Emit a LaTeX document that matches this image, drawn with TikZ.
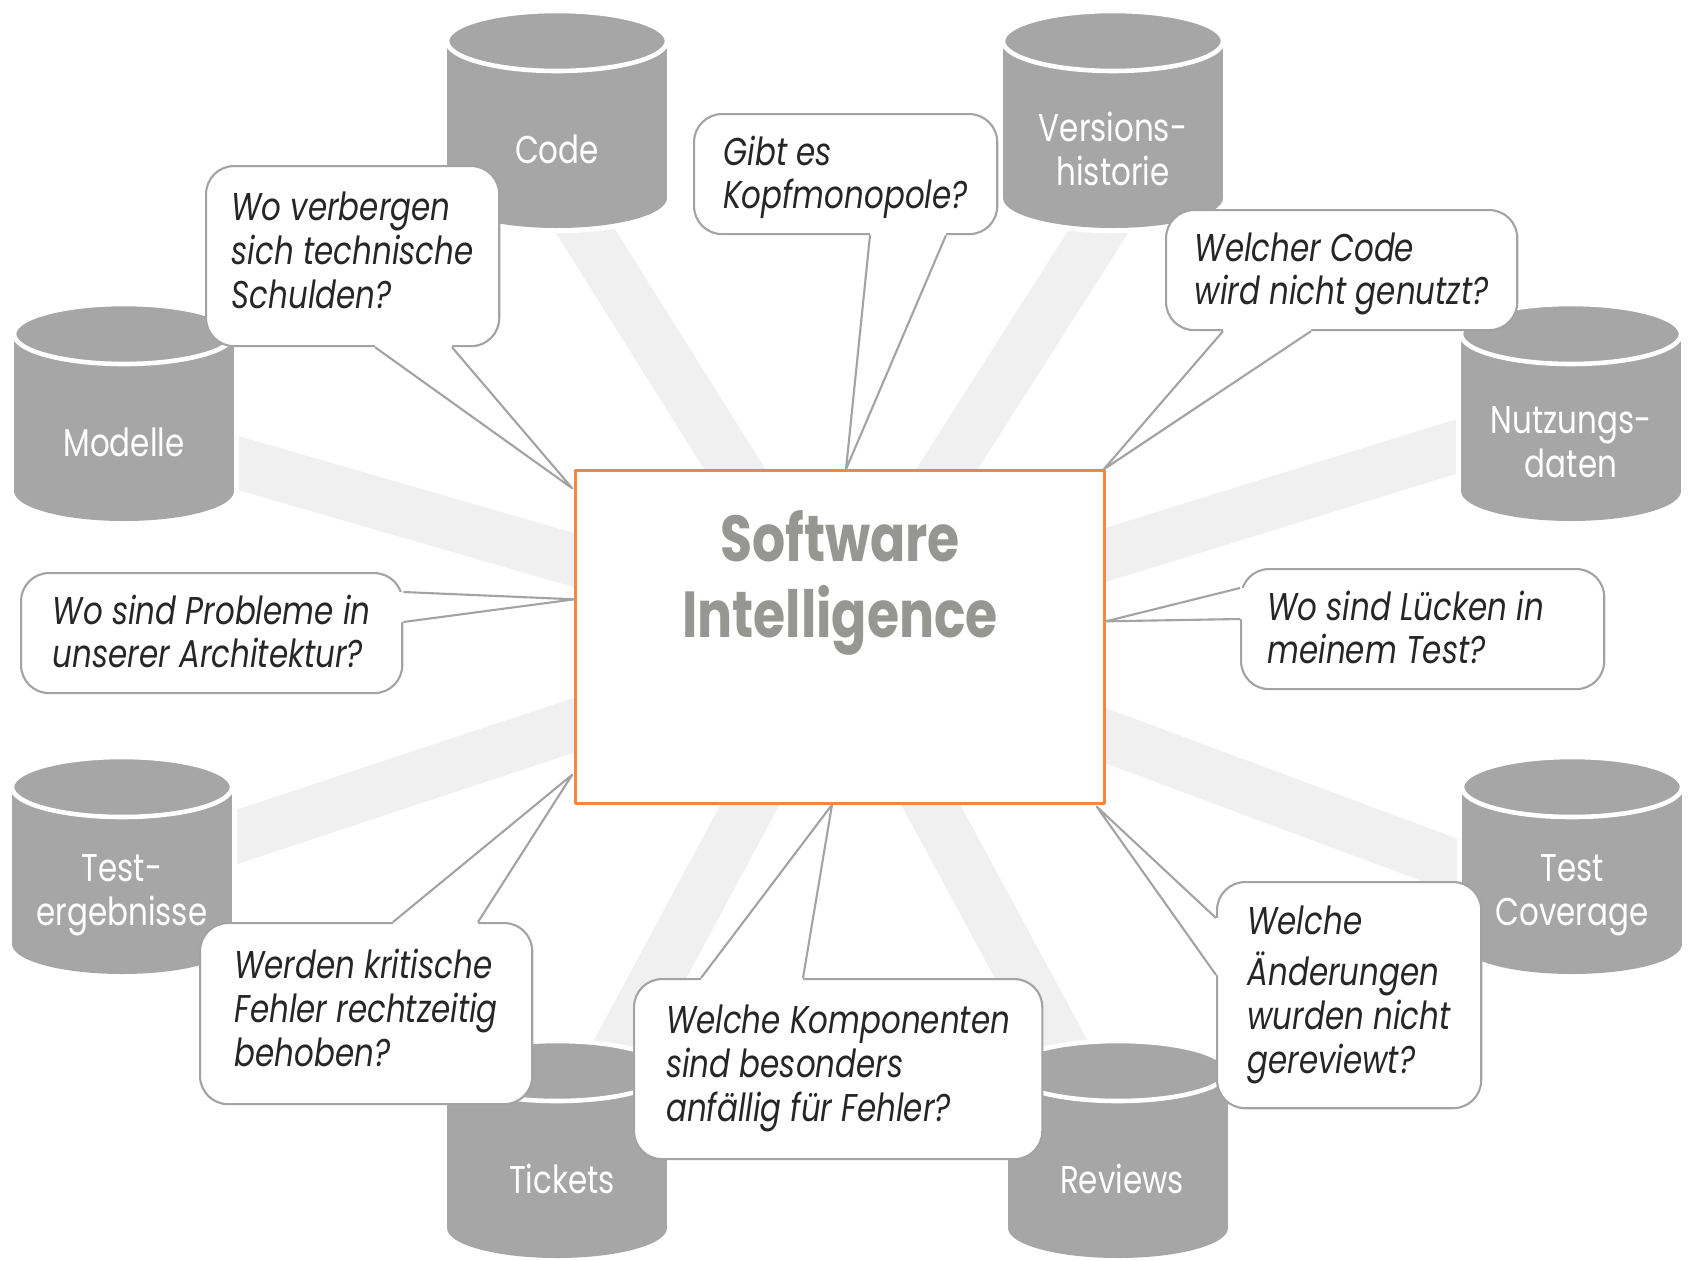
\documentclass[tikz,border=0pt]{standalone}
\usepackage{fontspec}
\setmainfont{Poppins}[FakeStretch=0.8]
\usetikzlibrary{calc}
\definecolor{dbgray}{HTML}{A6A6A6}
\definecolor{raygray}{HTML}{F0F0F0}
\definecolor{bubblegray}{HTML}{A3A3A3}
\definecolor{siorange}{HTML}{F7843F}
\definecolor{titlegray}{HTML}{969693}
\definecolor{qtext}{HTML}{262626}
\pgfdeclarelayer{background}
\pgfsetlayers{background,main}
\tikzset{
  every picture/.style={line join=round},
  ray/.style={draw=raygray, line width=0.52cm},
  dblabel/.style={text=white, align=center, inner sep=0pt, font=\fontsize{11}{12.5}\selectfont},
  sibox/.style={draw=siorange, fill=white, line width=0.9pt, minimum width=5.28cm, minimum height=3.32cm, inner sep=0pt},
  sititle/.style={text=titlegray, align=center, inner sep=0pt, font=\bfseries\fontsize{18.5}{21.6}\selectfont},
  bubble/.style={draw=bubblegray, fill=white, line width=0.6pt, rounded corners=0.28cm, anchor=north west,
    align=left, inner sep=0pt, text=qtext, font=\itshape\fontsize{11}{12.5}\selectfont},
  pointer/.style={draw=bubblegray, line width=0.6pt},
}
% cylinder: name, center x, top y, label
\newcommand\dbcyl[4]{%
  \draw[white, line width=3pt] (#2-110,#3+30) rectangle (#2+110,#3+187);
  \draw[white, line width=3pt] (#2,#3+187) ellipse [x radius=110, y radius=30];
  \fill[dbgray] (#2-110,#3+30) rectangle (#2+110,#3+187);
  \fill[dbgray] (#2,#3+187) ellipse [x radius=110, y radius=30];
  \filldraw[fill=dbgray, draw=white, line width=1.3pt] (#2,#3+30) ellipse [x radius=110, y radius=30];
  \node[dblabel] (#1) at (#2,#3+138) {#4};}
% open tip of a speech bubble: base a, base b, tip, shift into the bubble
\newcommand\bubbletip[4]{%
  \fill[white] ($(#1)+(#4)$) -- (#1) -- (#3) -- (#2) -- ($(#2)+(#4)$) -- cycle;
  \draw[pointer] (#1) -- (#3) -- (#2);}
\newcommand\topstrut{\rule{0pt}{0.39cm}}

\begin{document}
\begin{tikzpicture}[x=0.01cm,y=-0.01cm]
\useasboundingbox (0,0) rectangle (1688,1260);

\dbcyl{code}{557}{11}{Code}
\dbcyl{vers}{1113}{11}{Versions-\\historie}
\dbcyl{model}{124}{304}{Modelle}
\dbcyl{nutz}{1571}{304}{Nutzungs-\\daten}
\dbcyl{testerg}{122}{757}{Test-\\ergebnisse}
\dbcyl{testcov}{1572}{757}{Test\\Coverage}
\dbcyl{tickets}{557}{1041}{\hspace{0.1cm}Tickets}
\dbcyl{reviews}{1118}{1041}{\hspace{0.08cm}Reviews}

\node[sibox] (si) at (840,637) {};
\node[sititle] (sititle) at (840,583) {Software\\Intelligence};

\node[bubble, minimum width=2.93cm, minimum height=1.80cm] (debt) at (205,165) {\strut Wo verbergen\\sich technische\\Schulden?\strut};
\node[bubble, minimum width=3.03cm, minimum height=1.20cm] (kopf) at (693,113) {\topstrut Gibt es\\Kopfmonopole?\strut};
\node[bubble, minimum width=3.51cm, minimum height=1.20cm] (unused) at (1165,209) {\topstrut Welcher Code\\wird nicht genutzt?\strut};
\node[bubble, minimum width=3.81cm, minimum height=1.20cm] (arch) at (20,572) {\topstrut Wo sind Probleme in\\unserer Architektur?\strut};
\node[bubble, minimum width=3.63cm, minimum height=1.20cm] (gaps) at (1240,568) {\topstrut Wo sind Lücken in\rule{0.34cm}{0pt}\\meinem Test?\strut};
\node[bubble, minimum width=3.32cm, minimum height=1.81cm] (bugs) at (199,922) {\strut Werden kritische\\Fehler rechtzeitig\\behoben?\strut};
\node[bubble, minimum width=4.08cm, minimum height=1.80cm] (comp) at (633,978) {\strut Welche Komponenten\\sind besonders\\anfällig für Fehler?\strut};
\node[bubble, minimum width=2.64cm, minimum height=2.26cm] (review) at (1216,881) {\strut Welche\\Änderungen\\wurden nicht\\gereviewt?\strut};

\coordinate (debt-a) at ($(debt.south west)+(170,0)$);
\coordinate (debt-b) at ($(debt.south west)+(247,0)$);
\coordinate (debt-t) at ($(si.north west)+(-2,19)$);
\bubbletip{debt-a}{debt-b}{debt-t}{0,-5}
\coordinate (kopf-a) at ($(kopf.south west)+(177,0)$);
\coordinate (kopf-b) at ($(kopf.south west)+(253,0)$);
\coordinate (kopf-t) at ($(si.north)+(6,0)$);
\bubbletip{kopf-a}{kopf-b}{kopf-t}{0,-5}
\coordinate (unused-a) at ($(unused.south west)+(58,0)$);
\coordinate (unused-b) at ($(unused.south west)+(146,0)$);
\coordinate (unused-t) at ($(si.north east)+(-2,0)$);
\bubbletip{unused-a}{unused-b}{unused-t}{0,-5}
\coordinate (arch-a) at ($(arch.north east)+(0,20)$);
\coordinate (arch-b) at ($(arch.north east)+(0,50)$);
\coordinate (arch-t) at ($(si.north west)+(0,130)$);
\bubbletip{arch-a}{arch-b}{arch-t}{-5,0}
\coordinate (gaps-a) at ($(gaps.north west)+(0,20)$);
\coordinate (gaps-b) at ($(gaps.north west)+(0,51)$);
\coordinate (gaps-t) at ($(si.north east)+(0,152)$);
\bubbletip{gaps-a}{gaps-b}{gaps-t}{5,0}
\coordinate (bugs-a) at ($(bugs.north west)+(194,0)$);
\coordinate (bugs-b) at ($(bugs.north west)+(279,0)$);
\coordinate (bugs-t) at ($(si.south west)+(-2,-30)$);
\bubbletip{bugs-a}{bugs-b}{bugs-t}{0,5}
\coordinate (comp-a) at ($(comp.north west)+(68,0)$);
\coordinate (comp-b) at ($(comp.north west)+(170,0)$);
\coordinate (comp-t) at ($(si.south)+(-8,0)$);
\bubbletip{comp-a}{comp-b}{comp-t}{0,5}
\coordinate (review-a) at ($(review.north west)+(0,37)$);
\coordinate (review-b) at ($(review.north west)+(0,94)$);
\coordinate (review-t) at ($(si.south east)+(-9,2)$);
\bubbletip{review-a}{review-b}{review-t}{5,0}

\begin{pgfonlayer}{background}
\foreach \db/\dx/\dy in {code/-23/0,vers/38/0,model/0/-12,nutz/0/-31,testerg/0/-20,testcov/0/14,tickets/-8/0,reviews/15/0}
  \draw[ray] (si.center) -- ($(\db.center)+(\dx,\dy)$);
\end{pgfonlayer}
\end{tikzpicture}
\end{document}
